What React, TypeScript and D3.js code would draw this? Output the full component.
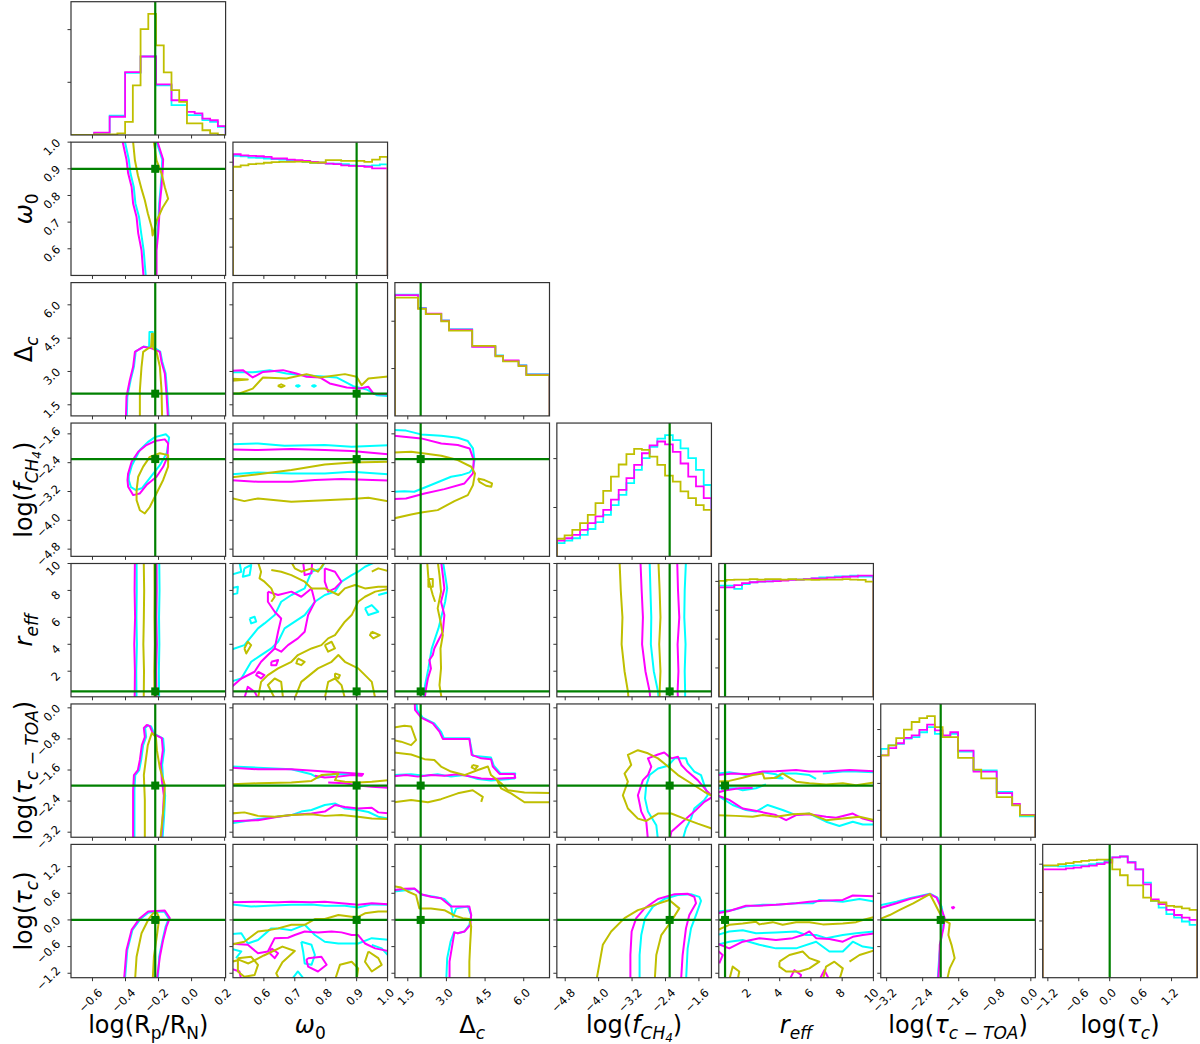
import React from "react";
import * as d3 from "d3";

type Pt = [number, number];

// axis ranges, true values and ticks of the 7 parameters
const paramRanges: [number, number][] = [
  [-0.73, 0.206], [0.5, 1.0], [1.0, 7.0], [-5.0, -1.3], [0.1, 10.0], [-3.33, 0.1], [-1.3, 1.7],
];
const truthValues = [-0.22, 0.9, 2.0, -2.3, 0.5, -2.0, 0.0];
const paramTicks = [
  [-0.6, -0.4, -0.2, 0.0, 0.2],
  [0.6, 0.7, 0.8, 0.9, 1.0],
  [1.5, 3.0, 4.5, 6.0],
  [-4.8, -4.0, -3.2, -2.4, -1.6],
  [2, 4, 6, 8, 10],
  [-3.2, -2.4, -1.6, -0.8, 0.0],
  [-1.2, -0.6, 0.0, 0.6, 1.2],
];
const tickDigits = [1, 1, 1, 1, 0, 1, 1];

// 1D marginal histograms, 20 bins each (heights in tick units)
const histMagenta = [
  [0, 0, 0, 0.044, 0.044, 0.346, 0.346, 1.195, 1.195, 1.49, 1.49, 0.962, 0.962, 0.66, 0.66, 0.44, 0.41, 0.31, 0.28, 0.17],
  [4.28, 4.24, 4.22, 4.21, 4.19, 4.13, 4.13, 4.09, 4.07, 4.05, 4.01, 3.98, 3.95, 3.93, 3.89, 3.87, 3.86, 3.84, 3.78, 3.78],
  [2.55, 2.55, 2.55, 2.27, 2.16, 2.16, 2.01, 1.82, 1.82, 1.82, 1.46, 1.46, 1.46, 1.27, 1.17, 1.17, 1.06, 0.87, 0.87, 0.87],
  [0.32, 0.37, 0.44, 0.54, 0.68, 0.82, 0.95, 1.16, 1.36, 1.6, 1.87, 2.11, 2.27, 2.35, 2.29, 2.14, 1.9, 1.63, 1.43, 1.19],
  [3.79, 3.79, 3.87, 3.94, 3.97, 3.99, 4.0, 4.01, 4.03, 4.05, 4.06, 4.08, 4.1, 4.1, 4.13, 4.14, 4.16, 4.17, 4.2, 4.2],
  [3.04, 3.31, 3.49, 3.69, 3.78, 3.99, 4.18, 3.97, 3.78, 3.9, 3.22, 3.22, 2.44, 2.44, 2.44, 1.64, 1.64, 1.24, 0.83, 0.83],
  [3.82, 3.82, 3.82, 3.85, 3.88, 3.92, 3.95, 4.0, 4.06, 4.24, 4.27, 4.06, 3.82, 3.29, 2.76, 2.59, 2.39, 2.21, 2.12, 2.04],
];
const histCyan = [
  [0, 0, 0, 0.04, 0.04, 0.365, 0.365, 1.18, 1.18, 1.49, 1.49, 0.94, 0.94, 0.566, 0.566, 0.377, 0.377, 0.283, 0.25, 0.157],
  [4.22, 4.21, 4.16, 4.15, 4.13, 4.11, 4.09, 4.07, 4.05, 4.01, 3.98, 3.98, 3.95, 3.95, 3.93, 3.89, 3.87, 3.86, 3.89, 3.92],
  [2.56, 2.56, 2.56, 2.28, 2.15, 2.15, 2.02, 1.83, 1.83, 1.83, 1.47, 1.47, 1.47, 1.28, 1.16, 1.16, 1.07, 0.88, 0.88, 0.88],
  [0.27, 0.32, 0.37, 0.44, 0.56, 0.7, 0.85, 1.05, 1.26, 1.5, 1.77, 2.01, 2.24, 2.41, 2.48, 2.38, 2.21, 2.01, 1.77, 1.46],
  [3.85, 3.85, 3.74, 3.91, 3.97, 3.99, 4.0, 4.01, 4.05, 4.06, 4.06, 4.08, 4.1, 4.14, 4.14, 4.17, 4.17, 4.2, 4.17, 4.17],
  [3.28, 3.41, 3.47, 3.66, 3.72, 3.9, 4.09, 3.84, 3.72, 3.84, 3.18, 3.18, 2.48, 2.48, 2.48, 1.68, 1.68, 1.19, 0.78, 0.78],
  [3.94, 3.94, 3.92, 3.94, 3.96, 3.96, 4.0, 4.04, 4.12, 4.24, 4.27, 4.08, 3.82, 3.35, 2.71, 2.47, 2.24, 2.12, 1.98, 1.86],
];
const histOlive = [
  [0, 0, 0, 0.01, 0.01, 0.01, 0.03, 0.25, 0.94, 2.01, 2.3, 1.7, 1.19, 0.85, 0.63, 0.22, 0.22, 0.09, 0.03, 0],
  [3.84, 3.89, 3.93, 3.95, 3.98, 4.0, 4.01, 4.01, 4.02, 4.01, 3.98, 3.99, 4.07, 4.07, 4.05, 4.05, 4.05, 4.01, 4.09, 4.19],
  [2.5, 2.5, 2.5, 2.26, 2.15, 2.15, 2.0, 1.8, 1.8, 1.8, 1.48, 1.48, 1.48, 1.26, 1.15, 1.15, 1.05, 0.86, 0.86, 0.86],
  [0.36, 0.43, 0.54, 0.68, 0.85, 1.09, 1.34, 1.63, 1.88, 2.09, 2.2, 2.18, 2.04, 1.87, 1.65, 1.53, 1.33, 1.19, 1.05, 0.95],
  [4.02, 4.05, 4.06, 4.06, 4.08, 4.06, 4.08, 4.08, 4.06, 4.08, 4.06, 4.06, 4.05, 4.06, 4.06, 4.06, 4.08, 4.06, 4.05, 3.99],
  [3.04, 3.41, 3.68, 4.0, 4.28, 4.42, 4.5, 4.09, 3.72, 3.72, 2.95, 2.95, 2.51, 2.19, 2.19, 1.49, 1.49, 1.18, 0.81, 0.81],
  [3.96, 3.96, 4.0, 4.04, 4.08, 4.12, 4.14, 4.16, 4.16, 3.82, 3.61, 3.25, 3.25, 2.82, 2.71, 2.65, 2.53, 2.5, 2.44, 2.39],
];

// 2D contour lines, keyed "row-col", points as [x param, y param]
const contoursMagenta: Record<string, Pt[][]> = {
  "1-0": [
    [[-0.424, 1.02], [-0.394, 0.935], [-0.384, 0.883], [-0.363, 0.832], [-0.354, 0.77], [-0.333, 0.719], [-0.323, 0.658], [-0.303, 0.594], [-0.289, 0.48]],
    [[-0.216, 1.02], [-0.172, 0.935], [-0.176, 0.883], [-0.182, 0.832], [-0.192, 0.77], [-0.196, 0.719], [-0.202, 0.658], [-0.212, 0.594], [-0.212, 0.48]],
  ],
  "2-0": [[[-0.398, 0.8], [-0.394, 1.86], [-0.374, 2.61], [-0.354, 3.21], [-0.343, 3.88], [-0.293, 4.11], [-0.242, 4.04], [-0.192, 3.88], [-0.182, 3.43], [-0.162, 2.91], [-0.152, 2.01], [-0.142, 0.8]]],
  "3-0": [[[-0.384, -2.698], [-0.363, -2.375], [-0.323, -2.097], [-0.273, -1.911], [-0.222, -1.8], [-0.162, -1.753], [-0.142, -1.864], [-0.146, -2.236], [-0.172, -2.514], [-0.212, -2.792], [-0.273, -3.022], [-0.313, -3.253], [-0.354, -3.3], [-0.384, -3.069], [-0.388, -2.883], [-0.384, -2.698]]],
  "4-0": [
    [[-0.345, -0.5], [-0.343, 2], [-0.347, 4], [-0.342, 6], [-0.345, 8], [-0.343, 10.5]],
    [[-0.212, -0.5], [-0.214, 2], [-0.21, 4], [-0.213, 6], [-0.211, 8], [-0.212, 10.5]],
  ],
  "5-0": [[[-0.354, -3.5], [-0.354, -2.12], [-0.349, -1.73], [-0.325, -1.6], [-0.313, -1.34], [-0.301, -0.96], [-0.283, -0.75], [-0.289, -0.52], [-0.271, -0.44], [-0.253, -0.47], [-0.235, -0.65], [-0.216, -0.7], [-0.18, -0.78], [-0.174, -1.09], [-0.186, -1.47], [-0.18, -1.86], [-0.168, -2.25], [-0.174, -2.76], [-0.186, -3.5]]],
  "6-0": [[[-0.41, -1.4], [-0.394, -0.676], [-0.363, -0.225], [-0.313, 0.04], [-0.263, 0.19], [-0.212, 0.2], [-0.162, 0.21], [-0.132, 0.04], [-0.152, -0.15], [-0.172, -0.45], [-0.192, -0.83], [-0.212, -1.4]]],
  "2-1": [[[0.49, 3.03], [0.532, 3.06], [0.564, 2.73], [0.597, 2.98], [0.662, 3.06], [0.705, 2.91], [0.738, 2.76], [0.781, 2.73], [0.813, 2.46], [0.868, 2.28], [0.911, 2.23], [0.938, 2.31], [0.954, 2.01], [0.97, 1.98], [1.01, 1.98]]],
  "3-1": [
    [[0.49, -2.032], [0.581, -2.05], [0.689, -2.02], [0.797, -2.05], [0.884, -2.078], [1.01, -2.17]],
    [[0.49, -2.883], [0.581, -2.93], [0.689, -2.93], [0.765, -2.883], [0.851, -2.856], [1.01, -2.9]],
  ],
  "3-2": [[[0.95, -1.652], [2.02, -1.726], [2.8, -1.865], [3.44, -1.911], [3.9, -2.004], [4.06, -2.328], [4.03, -2.698], [3.7, -2.976], [2.92, -3.134], [2.15, -3.254], [1.43, -3.393], [0.95, -3.411]]],
  "4-1": [
    [[0.613, 7.91], [0.646, 7.66], [0.689, 7.91], [0.721, 7.53], [0.754, 8.15], [0.765, 7.16], [0.743, 6.17], [0.732, 4.93], [0.71, 4.44], [0.678, 3.94], [0.656, 3.45], [0.635, 3.69], [0.646, 4.93], [0.656, 5.92], [0.635, 6.42], [0.613, 7.16], [0.613, 7.91]],
    [[0.49, 0.72], [0.527, 1.46], [0.57, 1.96], [0.591, 2.7], [0.613, 3.2], [0.635, 3.69]],
    [[0.797, 9.64], [0.83, 9.39], [0.851, 8.65], [0.83, 8.15], [0.808, 7.91], [0.797, 8.65], [0.797, 9.64]],
    [[0.727, 10.1], [0.732, 9.14], [0.754, 9.27], [0.756, 10.1]],
    [[0.581, 1.96], [0.602, 1.71], [0.591, 1.46], [0.575, 1.71], [0.581, 1.96]],
    [[0.537, 0.0], [0.548, 0.84], [0.57, 0.47], [0.581, 0.0]],
    [[0.624, 2.7], [0.646, 2.83], [0.64, 2.45], [0.624, 2.45], [0.624, 2.7]],
  ],
  "4-2": [[[2.79, 10.2], [2.86, 9.14], [2.92, 8.15], [2.79, 7.16], [2.92, 6.17], [2.86, 4.93], [2.66, 4.19], [2.53, 3.69], [2.47, 3.2], [2.34, 2.83], [2.4, 2.21], [2.28, 1.46], [2.21, 0.72], [2.15, -0.1]]],
  "4-3": [
    [[-3.0, 10.2], [-2.97, 8], [-2.94, 6], [-2.96, 4], [-2.88, 2], [-2.78, 0.5], [-2.76, -0.2]],
    [[-2.12, 10.2], [-2.1, 8], [-2.07, 6], [-2.11, 4], [-2.09, 2], [-2.11, 0.5], [-2.1, -0.2]],
  ],
  "5-1": [
    [[0.49, -1.54], [0.581, -1.58], [0.689, -1.58], [0.797, -1.64], [0.884, -1.68], [0.921, -1.7], [0.916, -1.75], [0.884, -1.73], [0.841, -1.77], [0.797, -1.79], [0.765, -1.75]],
    [[0.808, -1.92], [0.862, -1.94], [0.905, -2.0], [0.949, -2.03], [1.01, -2.06]],
    [[0.49, -2.92], [0.581, -2.89], [0.646, -2.8], [0.689, -2.76], [0.754, -2.72], [0.797, -2.67], [0.83, -2.5], [0.862, -2.55], [0.905, -2.59], [0.949, -2.57], [0.97, -2.69], [1.01, -2.72]],
  ],
  "5-2": [[[1.76, 0.3], [1.78, -0.05], [2.02, -0.25], [2.47, -0.4], [2.73, -0.61], [2.86, -0.8], [3.31, -0.8], [3.89, -0.8], [3.98, -1.21], [4.35, -1.3], [4.73, -1.32], [4.8, -1.51], [5.06, -1.7], [5.64, -1.7], [5.67, -1.8], [5.12, -1.82], [4.73, -1.83], [4.35, -1.82], [3.96, -1.77], [3.44, -1.71], [2.92, -1.75], [2.4, -1.73], [1.89, -1.77], [1.43, -1.73], [0.95, -1.76]]],
  "5-3": [[[-2.82, -3.4], [-2.86, -2.93], [-2.98, -2.67], [-3.06, -2.25], [-2.94, -1.86], [-2.82, -1.73], [-2.74, -1.51], [-2.82, -1.3], [-2.58, -1.2], [-2.43, -1.15], [-2.26, -1.3], [-2.1, -1.26], [-2.02, -1.47], [-1.87, -1.64], [-1.63, -1.86], [-1.39, -2.16], [-1.27, -2.29], [-1.47, -2.42], [-1.71, -2.67], [-1.95, -2.89], [-2.26, -3.19], [-2.3, -3.4]]],
  "5-4": [
    [[0.0, -1.73], [0.99, -1.69], [2.06, -1.71], [2.91, -1.64], [3.76, -1.63], [5.05, -1.6], [5.9, -1.64], [7.18, -1.63], [8.47, -1.6], [10.1, -1.63]],
    [[0.0, -2.18], [0.56, -2.12], [1.41, -2.07], [2.27, -2.06]],
    [[0.0, -2.25], [0.77, -2.37], [1.63, -2.59], [2.7, -2.67], [3.76, -2.76], [4.41, -2.89], [5.05, -2.76], [5.9, -2.74], [6.97, -2.8], [7.61, -2.83], [8.68, -2.72], [9.32, -2.85], [10.1, -2.93]],
  ],
  "6-1": [
    [[0.49, 0.4], [0.581, 0.41], [0.646, 0.4], [0.689, 0.41], [0.754, 0.4], [0.797, 0.41], [0.851, 0.375], [0.905, 0.34], [0.949, 0.375], [1.01, 0.35]],
    [[0.49, -0.53], [0.548, -0.56], [0.581, -0.75], [0.613, -0.71], [0.635, -0.41], [0.678, -0.4], [0.7, -0.34], [0.732, -0.26], [0.775, -0.28], [0.819, -0.26], [0.851, -0.28], [0.884, -0.34], [0.905, -0.34], [0.927, -0.53], [0.96, -0.64], [1.01, -0.71]],
    [[0.624, -0.64], [0.646, -0.75], [0.635, -0.86], [0.619, -0.75], [0.624, -0.64]],
    [[0.743, -0.86], [0.786, -0.83], [0.803, -1.01], [0.775, -1.16], [0.743, -1.05], [0.738, -0.9], [0.743, -0.86]],
    [[0.49, -1.09], [0.521, -1.16], [0.527, -1.35]],
  ],
  "6-2": [[[0.95, 0.67], [1.37, 0.7], [1.76, 0.71], [2.02, 0.58], [2.4, 0.52], [2.79, 0.49], [3.18, 0.3], [3.89, 0.3], [3.96, 0.11], [3.93, -0.11], [3.7, -0.26], [3.44, -0.3], [3.31, -0.28], [3.25, -0.49], [3.12, -0.94], [3.12, -1.4]]],
  "6-3": [[[-3.24, -1.4], [-3.24, -0.79], [-3.21, -0.26], [-3.1, 0.04], [-2.9, 0.26], [-2.58, 0.47], [-2.18, 0.58], [-1.87, 0.59], [-1.71, 0.52], [-1.67, 0.375], [-1.83, 0.11], [-1.91, -0.19], [-1.99, -0.79], [-2.03, -1.4]]],
  "6-4": [
    [[0.0, 0.15], [0.77, 0.2], [1.84, 0.32], [2.7, 0.32], [3.76, 0.34], [5.05, 0.375], [5.9, 0.41], [6.76, 0.43], [8.04, 0.45], [8.68, 0.55], [10.1, 0.53]],
    [[0.0, -0.53], [0.77, -0.64], [1.63, -0.49], [2.7, -0.41], [3.76, -0.45], [4.83, -0.41], [5.47, -0.34], [5.9, -0.26], [6.33, -0.41], [7.18, -0.43], [8.04, -0.49], [8.68, -0.38], [9.32, -0.34], [10.1, -0.3]],
    [[4.62, -1.35], [4.94, -1.13], [5.37, -1.24], [5.26, -1.35]],
    [[6.54, -1.35], [6.86, -1.13], [7.18, -1.35]],
    [[0.0, -0.68], [0.35, -0.79], [0.13, -0.98]],
  ],
  "6-5": [
    [[-3.4, 0.25], [-2.98, 0.375], [-2.69, 0.47], [-2.46, 0.525], [-2.24, 0.58], [-2.09, 0.5], [-2.02, 0.34], [-1.91, 0.04], [-1.94, -0.19], [-2.02, -0.56], [-2.03, -0.94], [-2.06, -1.4]],
    [[-1.73, 0.3], [-1.7, 0.28], [-1.73, 0.26], [-1.75, 0.28], [-1.73, 0.3]],
  ],
};

const contoursCyan: Record<string, Pt[][]> = {
  "1-0": [
    [[-0.41, 1.02], [-0.38, 0.935], [-0.37, 0.883], [-0.35, 0.832], [-0.34, 0.77], [-0.318, 0.719], [-0.305, 0.658], [-0.29, 0.594], [-0.275, 0.48]],
    [[-0.222, 1.02], [-0.178, 0.935], [-0.181, 0.883], [-0.187, 0.832], [-0.196, 0.77], [-0.2, 0.719], [-0.206, 0.658], [-0.215, 0.594], [-0.216, 0.48]],
  ],
  "2-0": [[[-0.393, 0.8], [-0.389, 1.86], [-0.369, 2.61], [-0.349, 3.21], [-0.338, 3.9], [-0.29, 4.12], [-0.257, 4.08], [-0.255, 4.78], [-0.235, 4.78], [-0.232, 4.1], [-0.19, 3.9], [-0.177, 3.43], [-0.157, 2.91], [-0.147, 2.01], [-0.137, 0.8]]],
  "3-0": [[[-0.38, -2.77], [-0.361, -2.47], [-0.313, -2.05], [-0.265, -1.83], [-0.222, -1.69], [-0.156, -1.61], [-0.136, -1.7], [-0.15, -2.13], [-0.192, -2.47], [-0.253, -2.83], [-0.301, -3.11], [-0.337, -3.16], [-0.367, -3.08], [-0.38, -2.89], [-0.38, -2.77]]],
  "4-0": [
    [[-0.333, -0.5], [-0.335, 2], [-0.331, 4], [-0.334, 6], [-0.332, 8], [-0.333, 10.5]],
    [[-0.196, -0.5], [-0.198, 2], [-0.195, 4], [-0.197, 6], [-0.194, 8], [-0.196, 10.5]],
  ],
  "5-0": [[[-0.346, -3.5], [-0.346, -2.12], [-0.341, -1.73], [-0.317, -1.6], [-0.305, -1.34], [-0.293, -0.96], [-0.275, -0.75], [-0.281, -0.52], [-0.263, -0.45], [-0.245, -0.48], [-0.227, -0.66], [-0.208, -0.71], [-0.172, -0.79], [-0.166, -1.09], [-0.178, -1.47], [-0.172, -1.86], [-0.16, -2.25], [-0.166, -2.76], [-0.178, -3.5]]],
  "6-0": [[[-0.405, -1.4], [-0.389, -0.676], [-0.358, -0.225], [-0.308, 0.03], [-0.26, 0.17], [-0.21, 0.18], [-0.165, 0.19], [-0.138, 0.03], [-0.157, -0.15], [-0.176, -0.45], [-0.196, -0.83], [-0.205, -1.4]]],
  "2-1": [
    [[0.49, 2.96], [0.564, 2.96], [0.619, 3.06], [0.673, 2.91], [0.727, 2.83], [0.781, 2.79], [0.835, 2.73], [0.889, 2.34], [0.932, 2.19], [0.965, 1.93], [1.01, 1.89]],
    [[0.71, 2.39], [0.716, 2.35], [0.71, 2.31], [0.704, 2.35], [0.71, 2.39]],
    [[0.762, 2.39], [0.768, 2.35], [0.762, 2.31], [0.756, 2.35], [0.762, 2.39]],
  ],
  "3-1": [
    [[0.49, -1.893], [0.581, -1.865], [0.667, -1.93], [0.797, -1.911], [0.884, -1.958], [1.01, -1.911]],
    [[0.49, -2.726], [0.581, -2.67], [0.689, -2.7], [0.797, -2.7], [0.884, -2.65], [1.01, -2.726]],
  ],
  "3-2": [[[0.95, -1.495], [1.43, -1.51], [2.02, -1.615], [2.8, -1.652], [3.44, -1.708], [3.83, -1.8], [4.03, -2.004], [4.09, -2.328], [4.03, -2.56], [3.9, -2.67], [3.57, -2.745], [3.18, -2.79], [2.4, -3.02], [1.75, -3.208], [1.37, -3.19], [0.95, -3.208]]],
  "4-1": [
    [[0.49, 3.57], [0.537, 3.94], [0.581, 5.18], [0.602, 5.55], [0.635, 6.17], [0.656, 7.16], [0.689, 7.66], [0.732, 8.15], [0.754, 9.39], [0.786, 9.64], [0.797, 10.1]],
    [[0.49, 1.21], [0.527, 1.46], [0.559, 2.7], [0.591, 3.2], [0.624, 3.69], [0.646, 4.19], [0.667, 5.18], [0.7, 5.68], [0.732, 6.17], [0.765, 7.16], [0.797, 7.66], [0.83, 7.91], [0.851, 8.65], [0.884, 9.14], [0.905, 9.39], [0.927, 9.76], [0.96, 10.1]],
    [[0.554, 5.92], [0.57, 6.05], [0.575, 5.68], [0.559, 5.55], [0.554, 5.92]],
    [[0.927, 6.67], [0.949, 6.91], [0.97, 6.42], [0.938, 6.17], [0.927, 6.67]],
    [[0.49, 9.14], [0.527, 9.39], [0.521, 10.1]],
    [[0.97, 7.66], [1.01, 7.91]],
    [[0.49, 8.15], [0.516, 8.28], [0.514, 7.78], [0.49, 7.66]],
    [[0.537, 9.64], [0.559, 9.89], [0.554, 9.14], [0.532, 9.02], [0.537, 9.64]],
  ],
  "4-2": [[[2.86, 10.2], [2.95, 9.14], [3.03, 8.15], [2.95, 7.16], [2.82, 6.17], [2.69, 5.18], [2.56, 4.44], [2.43, 3.69], [2.3, 2.21], [2.17, 0.97], [2.12, -0.1]]],
  "4-3": [
    [[-2.78, 10.2], [-2.76, 8], [-2.74, 6], [-2.75, 4], [-2.68, 2], [-2.58, 0.5], [-2.56, -0.2]],
    [[-1.91, 10.2], [-1.94, 8], [-1.95, 6], [-1.92, 4], [-1.94, 2], [-1.93, 0.5], [-1.93, -0.2]],
  ],
  "5-1": [
    [[0.49, -1.51], [0.581, -1.54], [0.689, -1.58], [0.754, -1.71], [0.775, -1.8], [0.797, -1.73], [0.841, -1.71], [0.884, -1.7], [0.916, -1.71]],
    [[0.49, -2.98], [0.537, -2.92], [0.581, -2.86], [0.689, -2.76], [0.721, -2.67], [0.754, -2.63], [0.797, -2.5], [0.83, -2.46], [0.862, -2.59], [0.905, -2.63], [0.938, -2.68], [0.97, -2.8], [1.01, -2.86]],
  ],
  "5-2": [[[1.82, 0.3], [1.86, -0.05], [2.08, -0.25], [2.53, -0.4], [2.79, -0.61], [2.9, -0.78], [3.89, -0.78], [4.02, -1.23], [4.73, -1.28], [4.84, -1.49], [5.1, -1.69], [5.67, -1.69], [5.64, -1.82], [4.73, -1.87], [4.22, -1.83], [3.7, -1.73], [3.18, -1.77], [2.66, -1.71], [2.15, -1.75], [1.63, -1.71], [0.95, -1.73]]],
  "5-3": [[[-2.58, -3.4], [-2.62, -3.02], [-2.82, -2.67], [-2.89, -2.33], [-2.86, -1.99], [-2.78, -1.73], [-2.58, -1.56], [-2.34, -1.49], [-2.18, -1.3], [-1.91, -1.3], [-1.87, -1.43], [-1.71, -1.64], [-1.55, -1.73], [-1.47, -1.99], [-1.39, -2.25], [-1.47, -2.37], [-1.71, -2.59], [-1.79, -2.85], [-1.91, -3.1], [-1.99, -3.4]]],
  "5-4": [
    [[0.0, -1.69], [0.77, -1.66], [1.84, -1.73], [2.91, -1.66], [3.76, -1.71], [4.19, -1.82], [3.65, -1.8], [4.08, -1.69], [5.05, -1.69], [5.9, -1.73], [6.33, -1.83]],
    [[6.76, -1.69], [8.04, -1.64], [8.89, -1.64], [10.1, -1.66]],
    [[0.0, -2.07], [1.2, -2.07], [1.63, -2.12], [2.48, -2.07], [3.12, -1.97]],
    [[0.0, -2.25], [0.99, -2.5], [1.84, -2.63], [2.48, -2.67], [3.23, -2.5], [4.19, -2.63], [5.05, -2.76], [5.9, -2.72], [6.97, -2.93], [7.82, -3.04], [8.68, -2.93], [9.32, -3.0], [10.1, -3.0]],
  ],
  "6-1": [
    [[0.49, 0.35], [0.559, 0.3], [0.613, 0.32], [0.689, 0.34], [0.754, 0.35], [0.797, 0.32], [0.862, 0.32], [0.905, 0.28], [0.949, 0.35], [1.01, 0.34]],
    [[0.49, -0.32], [0.527, -0.3], [0.548, -0.53], [0.581, -0.45], [0.624, -0.19], [0.646, -0.19], [0.689, -0.23], [0.732, -0.11], [0.765, -0.34], [0.797, -0.49], [0.841, -0.53], [0.905, -0.53], [0.949, -0.41], [1.01, -0.45]],
    [[0.721, -0.49], [0.754, -0.56], [0.765, -0.79], [0.754, -1.01], [0.732, -0.98], [0.727, -0.71], [0.721, -0.49]],
    [[0.689, -1.35], [0.71, -1.16], [0.732, -1.35]],
    [[0.49, -0.64], [0.527, -0.71], [0.51, -0.86]],
    [[0.949, -0.56], [0.981, -0.64], [1.01, -0.86]],
  ],
  "6-2": [[[0.95, 0.64], [1.43, 0.67], [1.76, 0.7], [2.08, 0.56], [2.53, 0.52], [2.92, 0.47], [3.18, 0.32], [3.25, 0.07], [3.38, 0.26], [3.83, 0.3], [3.96, 0.11], [3.89, -0.11], [3.7, -0.26], [3.44, -0.3], [3.29, -0.28], [3.16, -0.49], [3.03, -0.86], [2.99, -1.4]]],
  "6-3": [[[-3.02, -1.4], [-3.02, -0.79], [-2.98, -0.34], [-2.89, 0.04], [-2.7, 0.3], [-2.43, 0.47], [-2.11, 0.56], [-1.79, 0.58], [-1.59, 0.52], [-1.55, 0.43], [-1.67, 0.11], [-1.79, -0.19], [-1.87, -0.64], [-1.91, -1.4]]],
  "6-4": [
    [[0.0, 0.19], [0.99, 0.225], [1.84, 0.3], [2.91, 0.34], [3.98, 0.35], [5.05, 0.375], [6.12, 0.375], [6.54, 0.45], [8.04, 0.41], [9.11, 0.47], [10.1, 0.41]],
    [[0.0, -0.34], [0.77, -0.26], [1.63, -0.23], [2.48, -0.3], [3.76, -0.28], [5.05, -0.26], [5.69, -0.34], [6.33, -0.34], [6.97, -0.41], [8.04, -0.34], [8.89, -0.3], [10.1, -0.26]],
    [[0.0, -0.56], [0.77, -0.49], [1.63, -0.45], [2.7, -0.56], [3.76, -0.64], [5.05, -0.64], [6.33, -0.49], [7.18, -0.71], [8.04, -0.71], [8.68, -0.49], [9.32, -0.6], [10.1, -0.64]],
  ],
  "6-5": [[[-3.4, 0.32], [-2.98, 0.41], [-2.69, 0.49], [-2.46, 0.54], [-2.24, 0.59], [-2.07, 0.5], [-1.98, 0.3], [-1.93, 0.0], [-1.98, -0.34], [-2.03, -0.79], [-2.07, -1.4]]],
};

const contoursOlive: Record<string, Pt[][]> = {
  "1-0": [[[-0.357, 1.02], [-0.343, 0.932], [-0.325, 0.876], [-0.301, 0.82], [-0.283, 0.782], [-0.265, 0.733], [-0.241, 0.68], [-0.236, 0.65], [-0.21, 0.707], [-0.174, 0.756], [-0.142, 0.788], [-0.162, 0.831], [-0.182, 0.883], [-0.212, 0.932], [-0.233, 1.02]]],
  "2-0": [[[-0.313, 0.8], [-0.313, 2.16], [-0.303, 3.21], [-0.293, 3.88], [-0.263, 4.04], [-0.245, 4.11], [-0.24, 4.7], [-0.234, 4.7], [-0.232, 4.05], [-0.212, 3.88], [-0.192, 3.21], [-0.182, 2.16], [-0.178, 0.8]]],
  "3-0": [[[-0.333, -3.16], [-0.323, -2.79], [-0.293, -2.51], [-0.253, -2.24], [-0.192, -2.14], [-0.142, -2.19], [-0.142, -2.51], [-0.172, -2.88], [-0.212, -3.25], [-0.253, -3.63], [-0.283, -3.81], [-0.313, -3.72], [-0.333, -3.44], [-0.333, -3.16]]],
  "4-0": [
    [[-0.29, -0.5], [-0.288, 2], [-0.292, 4], [-0.289, 6], [-0.287, 8], [-0.29, 10.5]],
    [[-0.224, -0.5], [-0.226, 2], [-0.223, 4], [-0.225, 6], [-0.224, 8], [-0.225, 10.5]],
  ],
  "5-0": [[[-0.283, -3.5], [-0.283, -2.37], [-0.289, -1.73], [-0.277, -1.34], [-0.265, -0.96], [-0.241, -0.65], [-0.216, -0.75], [-0.21, -1.09], [-0.192, -1.55], [-0.162, -1.99], [-0.168, -2.5], [-0.192, -3.5]]],
  "6-0": [[[-0.343, -1.4], [-0.333, -0.827], [-0.303, -0.3], [-0.263, 0.0], [-0.233, 0.15], [-0.209, 0.16], [-0.196, 0.04], [-0.208, -0.3], [-0.228, -0.827], [-0.236, -1.4]]],
  "2-1": [
    [[0.49, 2.68], [0.548, 2.64], [0.49, 2.58]],
    [[0.49, 2.01], [0.521, 2.01], [0.564, 2.23], [0.597, 2.73], [0.673, 2.68], [0.738, 2.88], [0.781, 2.73], [0.862, 2.88], [0.9, 2.76], [0.916, 2.38], [0.938, 2.68], [1.01, 2.79]],
    [[0.645, 2.35], [0.656, 2.42], [0.667, 2.35], [0.656, 2.29], [0.645, 2.35]],
  ],
  "3-1": [
    [[0.49, -2.81], [0.581, -2.72], [0.689, -2.606], [0.797, -2.448], [0.884, -2.393], [1.01, -2.374]],
    [[0.49, -3.374], [0.537, -3.467], [0.581, -3.393], [0.689, -3.485], [0.797, -3.44], [0.884, -3.41], [0.938, -3.374], [1.01, -3.485]],
  ],
  "3-2": [
    [[0.95, -2.115], [1.63, -2.097], [2.15, -2.143], [2.8, -2.208], [3.44, -2.328], [3.96, -2.513], [4.11, -2.698], [4.03, -3.022], [3.83, -3.3], [3.31, -3.467], [2.66, -3.717], [2.02, -3.782], [1.63, -3.837], [0.95, -3.948]],
    [[4.22, -2.837], [4.48, -2.883], [4.77, -2.976], [4.74, -3.069], [4.54, -3.04], [4.28, -2.93], [4.22, -2.837]],
  ],
  "4-1": [
    [[0.624, 9.52], [0.656, 9.39], [0.689, 9.14], [0.732, 8.65], [0.754, 8.15], [0.797, 8.15], [0.841, 7.66], [0.862, 8.15], [0.895, 8.4], [0.927, 8.15], [0.97, 8.28], [1.01, 8.28]],
    [[0.581, 0.0], [0.591, 1.21], [0.613, 1.71], [0.646, 2.21], [0.689, 2.7], [0.71, 3.2], [0.754, 3.69], [0.786, 3.94], [0.808, 4.44], [0.83, 4.68], [0.862, 5.68], [0.884, 6.17], [0.905, 7.16], [0.927, 7.53], [0.96, 7.91], [1.01, 8.15]],
    [[0.7, 0.0], [0.721, 1.21], [0.775, 2.21], [0.819, 2.7], [0.841, 3.2], [0.862, 2.7], [0.905, 2.21], [0.927, 1.71], [0.949, 1.21], [0.96, 0.0]],
    [[0.797, 3.94], [0.819, 4.19], [0.83, 3.69], [0.808, 3.45], [0.797, 3.94]],
    [[0.71, 2.95], [0.732, 2.7], [0.721, 2.45], [0.705, 2.58], [0.71, 2.95]],
    [[0.949, 4.93], [0.975, 4.68], [0.954, 4.44], [0.943, 4.68], [0.949, 4.93]],
    [[0.635, 0.0], [0.613, 0.97], [0.635, 1.46], [0.656, 1.21], [0.662, 0.0]],
    [[0.581, 10.1], [0.591, 9.39], [0.586, 8.9], [0.602, 8.65], [0.624, 8.15], [0.635, 7.53], [0.624, 7.16]],
    [[0.689, 10.1], [0.7, 9.64], [0.721, 9.39], [0.754, 9.64], [0.775, 9.39], [0.797, 10.1]],
    [[0.949, 9.39], [0.97, 9.64], [1.01, 9.39]],
    [[0.797, 0.0], [0.808, 1.21], [0.83, 1.46], [0.851, 0.97], [0.862, 0.0]],
    [[0.83, 1.84], [0.846, 1.71], [0.841, 1.46], [0.83, 1.59], [0.83, 1.84]],
    [[0.537, 3.69], [0.548, 4.19], [0.559, 3.94], [0.543, 3.32], [0.537, 3.69]],
  ],
  "4-2": [
    [[2.25, 10.2], [2.3, 8.9], [2.4, 8.15], [2.47, 7.66], [2.56, 7.16]],
    [[2.66, 10.2], [2.73, 9.14], [2.79, 7.91], [2.66, 6.67], [2.77, 5.68], [2.86, 4.68], [2.77, 3.69], [2.79, 2.21], [2.73, 0.97], [2.82, -0.1]],
    [[2.3, 8.85], [2.47, 8.85], [2.47, 8.28], [2.3, 8.28], [2.3, 8.85]],
  ],
  "4-3": [
    [[-3.5, 10.2], [-3.47, 8], [-3.43, 6], [-3.45, 4], [-3.38, 2], [-3.3, 0.5], [-3.28, -0.2]],
    [[-2.57, 10.2], [-2.54, 8], [-2.52, 6], [-2.55, 4], [-2.52, 2], [-2.54, 0.5], [-2.54, -0.2]],
  ],
  "5-1": [
    [[0.49, -1.97], [0.581, -1.94], [0.689, -1.92], [0.754, -1.88], [0.786, -1.73], [0.819, -1.71], [0.841, -1.69], [0.83, -1.86], [0.862, -1.9], [0.905, -1.92], [0.949, -1.9], [1.01, -1.86]],
    [[0.49, -2.72], [0.537, -2.69], [0.581, -2.78], [0.635, -2.8], [0.689, -2.76], [0.754, -2.74], [0.797, -2.78], [0.851, -2.76], [0.905, -2.8], [0.949, -2.85], [1.01, -2.86]],
  ],
  "5-2": [
    [[0.95, -1.15], [1.63, -1.2], [2.15, -1.32], [2.53, -1.34], [2.79, -1.51], [3.18, -1.64], [3.7, -1.73], [4.22, -1.6], [4.61, -1.51], [4.73, -1.73], [5.12, -1.94], [5.38, -2.12], [6.03, -2.18], [7.1, -2.19]],
    [[0.95, -2.43], [1.63, -2.37], [2.28, -2.43], [2.79, -2.35], [3.44, -2.2], [4.02, -2.12], [4.41, -2.29], [4.35, -2.42]],
    [[4.93, -1.82], [5.12, -2.07], [5.51, -2.2], [6.03, -2.43], [7.1, -2.43]],
    [[0.95, -0.51], [1.37, -0.46], [1.63, -0.48], [1.82, -0.83], [1.63, -0.96], [1.24, -0.87], [0.95, -0.83]],
    [[4.02, -1.47], [4.22, -1.5], [4.11, -1.58], [3.98, -1.53], [4.02, -1.47]],
  ],
  "5-3": [[[-1.2, -2.33], [-1.31, -2.25], [-1.47, -2.16], [-1.79, -1.94], [-2.1, -1.73], [-2.34, -1.51], [-2.58, -1.3], [-2.82, -1.17], [-3.06, -1.09], [-3.3, -1.21], [-3.22, -1.47], [-3.38, -1.69], [-3.3, -1.9], [-3.42, -2.25], [-3.3, -2.59], [-3.06, -2.85], [-2.86, -2.91], [-2.58, -2.72], [-2.26, -2.72], [-1.95, -2.85], [-1.63, -2.98], [-1.31, -3.1], [-1.2, -3.15]]],
  "5-4": [
    [[0.0, -1.9], [0.77, -1.88], [1.63, -1.8], [2.27, -1.73], [2.91, -1.69], [3.02, -1.82], [3.76, -1.8], [4.19, -1.69], [4.51, -1.77], [5.05, -1.9], [5.9, -1.94], [6.97, -1.97], [8.04, -1.94], [8.89, -1.99], [10.1, -1.92]],
    [[0.0, -2.76], [1.2, -2.78], [2.27, -2.8], [2.91, -2.76], [3.76, -2.8], [4.83, -2.74], [5.9, -2.72], [6.97, -2.89], [8.04, -2.85], [9.11, -2.8], [10.1, -2.89]],
  ],
  "6-1": [
    [[0.49, -0.56], [0.537, -0.49], [0.581, -0.26], [0.613, -0.23], [0.646, -0.19], [0.689, -0.11], [0.732, -0.11], [0.765, 0.02], [0.797, 0.02], [0.841, 0.11], [0.884, 0.07], [0.905, 0.07], [0.927, 0.15], [0.97, 0.19], [1.01, 0.19]],
    [[0.516, -0.86], [0.559, -0.83], [0.581, -1.01], [0.57, -1.24], [0.537, -1.28], [0.516, -1.16], [0.516, -0.86]],
    [[0.938, -0.71], [0.97, -0.86], [0.981, -1.01], [0.949, -1.16], [0.927, -0.94], [0.938, -0.71]],
    [[0.83, -1.35], [0.846, -1.01], [0.884, -0.94], [0.905, -1.09], [0.9, -1.35]],
    [[0.49, -0.95], [0.52, -0.9], [0.55, -0.98], [0.6, -0.8], [0.66, -0.6], [0.7, -0.7], [0.66, -0.95], [0.64, -1.2], [0.65, -1.35]],
  ],
  "6-2": [[[0.95, 0.76], [1.24, 0.73], [1.5, 0.64], [1.82, 0.56], [1.95, 0.26], [2.4, 0.26], [2.92, 0.22], [3.31, 0.1], [3.63, 0.04], [3.89, 0.02], [3.96, -0.15], [3.92, -0.56], [3.89, -0.94], [3.89, -1.4]]],
  "6-3": [[[-4.06, -1.4], [-3.9, -0.56], [-3.7, -0.26], [-3.38, 0.04], [-3.06, 0.22], [-2.66, 0.34], [-2.31, 0.45], [-2.07, 0.26], [-2.27, -0.04], [-2.5, -0.34], [-2.62, -0.79], [-2.66, -1.4]]],
  "6-4": [
    [[0.0, -0.23], [0.77, -0.11], [1.63, -0.08], [2.48, -0.04], [2.7, -0.1], [3.55, -0.05], [4.19, -0.11], [5.05, -0.05], [5.9, -0.05], [6.76, -0.1], [8.04, -0.08], [8.89, -0.05], [9.32, 0.0], [10.1, 0.07]],
    [[3.98, -0.94], [4.62, -0.79], [5.47, -0.71], [5.9, -0.86], [6.54, -0.94], [5.9, -1.09], [5.26, -1.16], [4.41, -1.16], [3.98, -1.05], [3.98, -0.94]],
    [[6.76, -1.35], [6.97, -1.05], [7.5, -0.94], [8.04, -1.09], [7.82, -1.35]],
    [[0.77, -1.35], [0.99, -1.05], [1.41, -1.16], [1.31, -1.35]],
    [[8.47, -0.94], [9.11, -0.79], [10.1, -0.68]],
  ],
  "6-5": [[[-3.4, 0.0], [-3.13, 0.11], [-2.91, 0.225], [-2.61, 0.375], [-2.24, 0.58], [-2.15, 0.41], [-2.02, 0.15], [-1.94, 0.0], [-1.8, -0.08], [-1.83, -0.34], [-1.76, -0.56], [-1.69, -0.86], [-1.8, -1.09], [-1.87, -1.4]]],
};

const SERIES = [
  { color: "#00ffff", hist: histCyan, contours: contoursCyan },
  { color: "#ff00ff", hist: histMagenta, contours: contoursMagenta },
  { color: "#bfbf00", hist: histOlive, contours: contoursOlive },
];

const N = 7;
const LEFT = 71;
const COL_STEP = 161.95;
const PW = 154.6;
const TOP = 1.7;
const ROW_STEP = 140.45;
const PH = 133.3;
const NBINS = 20;
const TRUTH = "#008000";
const AXIS = "#333";
const TICK_FS = 11.5;
const LABEL_FS = 24;
const SUB_FS = 17;

const glyphW: Record<string, number> = { "−": 0.838, ".": 0.318 };
const labelWidth = (s: string) =>
  s.split("").reduce((a, c) => a + (glyphW[c] ?? 0.636), 0) * TICK_FS;

const fmtTick = (v: number, d: number) => d3.format(`.${d}f`)(v).replace("-", "−");

const sub = (t: string, italic = true) => (
  <tspan dy={6} fontSize={SUB_FS} fontStyle={italic ? "italic" : "normal"}>{t}</tspan>
);

const paramLabels: React.ReactNode[] = [
  <>log(R<tspan dy={6} fontSize={SUB_FS}>p</tspan><tspan dy={-6}>/R</tspan><tspan dy={6} fontSize={SUB_FS}>N</tspan><tspan dy={-6}>)</tspan></>,
  <><tspan fontStyle="italic">ω</tspan>{sub("0", false)}</>,
  <>Δ{sub("c")}</>,
  <>log(<tspan fontStyle="italic">f</tspan>{sub("CH")}<tspan dy={3} fontSize={12} fontStyle="italic">4</tspan><tspan dy={-9}>)</tspan></>,
  <><tspan fontStyle="italic">r</tspan>{sub("eff")}</>,
  <>log(<tspan fontStyle="italic">τ</tspan>{sub("c − TOA")}<tspan dy={-6}>)</tspan></>,
  <>log(<tspan fontStyle="italic">τ</tspan>{sub("c")}<tspan dy={-6}>)</tspan></>,
];

const Panel = ({ i, j }: { i: number; j: number }) => {
  const x0 = LEFT + j * COL_STEP;
  const y0 = TOP + i * ROW_STEP;
  const xs = d3.scaleLinear().domain(paramRanges[j]).range([0, PW]);
  const clipId = `clip-${i}-${j}`;
  let ys: d3.ScaleLinear<number, number>;
  let yTicks: number[];
  const content: React.ReactNode[] = [];

  if (i === j) {
    const maxH = d3.max(SERIES, (s) => d3.max(s.hist[j]) as number) as number;
    ys = d3.scaleLinear().domain([0, maxH * 1.1]).range([PH, 0]);
    yTicks = d3.range(1, Math.floor(maxH * 1.1) + 1);
    const [lo, hi] = paramRanges[j];
    const edges = d3.range(NBINS + 1).map((k) => lo + (k * (hi - lo)) / NBINS);
    SERIES.forEach((s, si) => {
      const pts: Pt[] = [[edges[0], 0]];
      s.hist[j].forEach((h, k) => {
        pts.push([edges[k], h]);
        pts.push([edges[k + 1], h]);
      });
      pts.push([edges[NBINS], 0]);
      const line = d3.line<Pt>().x((p) => xs(p[0])).y((p) => ys(p[1]));
      content.push(
        <path key={`h${si}`} d={line(pts) as string} fill="none" stroke={s.color} strokeWidth={1.8} />
      );
    });
  } else {
    ys = d3.scaleLinear().domain(paramRanges[i]).range([PH, 0]);
    yTicks = paramTicks[i];
    const line = d3.line<Pt>().x((p) => xs(p[0])).y((p) => ys(p[1]));
    SERIES.forEach((s, si) => {
      (s.contours[`${i}-${j}`] || []).forEach((c, ci) => {
        content.push(
          <path key={`c${si}-${ci}`} d={line(c) as string} fill="none" stroke={s.color}
            strokeWidth={2} strokeLinejoin="round" />
        );
      });
    });
  }

  const tx = xs(truthValues[j]);
  const ty = i === j ? null : ys(truthValues[i]);

  return (
    <g transform={`translate(${x0},${y0})`}>
      <defs>
        <clipPath id={clipId}>
          <rect x={0} y={0} width={PW} height={PH} />
        </clipPath>
      </defs>
      <g clipPath={`url(#${clipId})`}>
        {content}
        <line x1={tx} x2={tx} y1={0} y2={PH} stroke={TRUTH} strokeWidth={2.2} />
        {ty !== null && <line x1={0} x2={PW} y1={ty} y2={ty} stroke={TRUTH} strokeWidth={2.2} />}
      </g>
      {ty !== null && <rect x={tx - 4} y={ty - 4} width={8} height={8} fill={TRUTH} />}
      <rect x={0} y={0} width={PW} height={PH} fill="none" stroke={AXIS} strokeWidth={1.2} />
      {paramTicks[j].map((t) => (
        <line key={`xt${t}`} x1={xs(t)} x2={xs(t)} y1={PH} y2={PH + 3.5} stroke={AXIS} strokeWidth={1} />
      ))}
      {yTicks.map((t) => (
        <line key={`yt${t}`} x1={-3.5} x2={0} y1={ys(t)} y2={ys(t)} stroke={AXIS} strokeWidth={1} />
      ))}
      {i === N - 1 &&
        paramTicks[j].map((t) => {
          const s = fmtTick(t, tickDigits[j]);
          const cy = PH + 8 + (labelWidth(s) + 1.17 * TICK_FS) * 0.3536;
          return (
            <text key={`xl${t}`} transform={`translate(${xs(t) - 2},${cy}) rotate(-45)`}
              textAnchor="middle" dominantBaseline="central" fontSize={TICK_FS}>{s}</text>
          );
        })}
      {j === 0 && i > 0 &&
        paramTicks[i].map((t) => {
          const s = fmtTick(t, tickDigits[i]);
          const cx = -8 - (labelWidth(s) + 1.17 * TICK_FS) * 0.3536;
          return (
            <text key={`yl${t}`} transform={`translate(${cx},${ys(t) + 5}) rotate(-45)`}
              textAnchor="middle" dominantBaseline="central" fontSize={TICK_FS}>{s}</text>
          );
        })}
    </g>
  );
};

export default function App() {
  const panels: React.ReactNode[] = [];
  for (let i = 0; i < N; i++) {
    for (let j = 0; j <= i; j++) panels.push(<Panel key={`${i}-${j}`} i={i} j={j} />);
  }
  return (
    <svg width={1200} height={1044} style={{ position: "absolute", left: 0, top: 0, background: "#fff" }}
      fontFamily="DejaVu Sans" fill="#000">
      <rect x={0} y={0} width={1200} height={1044} fill="#fff" />
      {panels}
      {paramLabels.map((lab, k) => (
        <text key={`xlab${k}`} x={LEFT + k * COL_STEP + PW / 2} y={1033} textAnchor="middle" fontSize={LABEL_FS}>
          {lab}
        </text>
      ))}
      {paramLabels.slice(1).map((lab, k) => (
        <text key={`ylab${k}`} transform={`translate(32,${TOP + (k + 1) * ROW_STEP + PH / 2}) rotate(-90)`}
          textAnchor="middle" fontSize={LABEL_FS}>
          {lab}
        </text>
      ))}
    </svg>
  );
}
